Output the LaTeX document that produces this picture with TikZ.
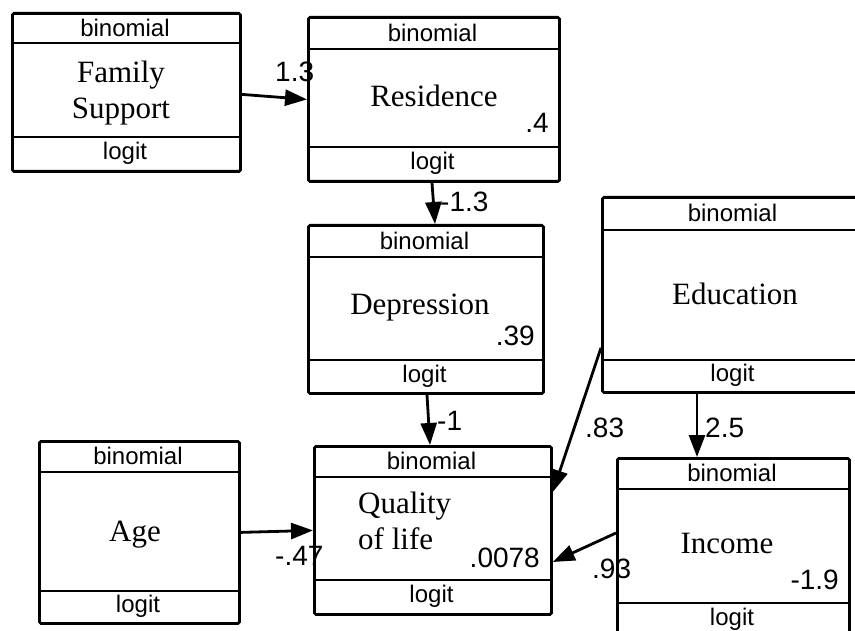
\documentclass[tikz,border=0pt]{standalone}
\usepackage{fontspec}
\newfontfamily\lsans{Liberation Sans}
\newfontfamily\lserif{Liberation Serif}
\usetikzlibrary{arrows.meta,calc}
\newcommand\ebox[7]{%
  \pgfmathsetmacro\eboxw{#4-#2}\pgfmathsetmacro\eboxh{#5-#3}%
  \node[boxst,minimum width=\eboxw pt,minimum height=\eboxh pt,anchor=north west] (#1) at (#2,#3) {};
  \draw[divline] (#2,#6) -- (#4,#6);
  \draw[divline] (#2,#7) -- (#4,#7);
  \pgfmathsetmacro\eboxcx{(#2+#4)/2}\pgfmathsetmacro\eboxcb{(#3+#6)/2}\pgfmathsetmacro\eboxcl{(#7+#5)/2}%
  \node[famlab] (#1-fam) at (\eboxcx,\eboxcb) {binomial};
  \node[famlab] (#1-link) at (\eboxcx,\eboxcl) {logit};
}
\begin{document}
\begin{tikzpicture}[x=1pt,y=-1pt,
  boxst/.style={draw,line width=2.8pt,rounded corners=1.5pt,inner sep=0pt},
  divline/.style={line width=2.8pt},
  famlab/.style={font=\lsans\fontsize{24}{28}\selectfont,inner sep=0pt},
  vname/.style={font=\lserif\fontsize{31}{36}\selectfont,inner sep=0pt},
  coef/.style={font=\lsans\fontsize{28}{32}\selectfont,inner sep=0pt},
  arr/.style={line width=2.8pt,-{Triangle[length=22pt,width=16pt]}}]
\clip (0,0) rectangle (855,631);
\fill[white] (0,0) rectangle (855,631);

\ebox{fs}{11}{12}{239}{170}{43}{137}
\ebox{res}{307}{16}{558}{180}{49}{147}
\ebox{dep}{307}{224}{542}{392}{257}{360}
\ebox{edu}{601}{196}{864}{391}{230}{360}
\ebox{age}{38}{440}{238}{622}{472}{591}
\ebox{qol}{313}{445}{550}{613}{477}{580}
\ebox{inc}{616}{457}{848}{636}{489}{603}

% variable names
\node[vname,align=center,anchor=north] (fsname) at (121,61) {\lserif\fontsize{31}{35}\selectfont Family\\Support};
\node[vname,anchor=base] (resname) at (434,107) {Residence};
\node[vname,anchor=base] (depname) at (420,315) {Depression};
\node[vname,anchor=base] (eduname) at (735,305) {Education};
\node[vname,anchor=base] (agename) at (135,541) {Age};
\node[vname,anchor=base] (incname) at (727,553) {Income};
\node[vname,align=left,anchor=north west] (qolname) at (358,492) {\lserif\fontsize{31}{37}\selectfont Quality\\of life};

% values inside boxes
\node[coef,anchor=base east] (v1) at (549,133) {.4};
\node[coef,anchor=base east] (v2) at (535,345) {.39};
\node[coef,anchor=base east] (v3) at (540,567) {.0078};
\node[coef,anchor=base east] (v4) at (839,589) {-1.9};

% connectors
\draw[arr] ($(fs.east)+(0,2)$) -- (res.west);
\draw[arr] ($(res.south west)+(125,0)$) -- ($(dep.north west)+(128,0)$);
\draw[arr] ($(dep.south west)+(120,0)$) -- ($(qol.north west)+(117,0)$);
\draw[arr] ($(edu.south west)+(0,-46)$) -- ($(qol.north east)+(0,47)$);
\draw[arr] ($(edu.south west)+(96,0)$) -- ($(inc.north west)+(81,0)$);
\draw[arr] (age.east) -- (qol.west);
\draw[arr] ($(inc.north west)+(0,76)$) -- ($(qol.north east)+(0,117)$);

% connector labels
\node[coef,anchor=base west] (l1) at (275,82) {1.3};
\node[coef,anchor=base west] (l2) at (440,212) {-1.3};
\node[coef,anchor=base west] (l3) at (437,430) {-1};
\node[coef,anchor=base west] (l4) at (585,437) {.83};
\node[coef,anchor=base west] (l5) at (705,437) {2.5};
\node[coef,anchor=base west] (l6) at (275,565) {-.47};
\node[coef,anchor=base west] (l7) at (592,578) {.93};
\end{tikzpicture}
\end{document}
